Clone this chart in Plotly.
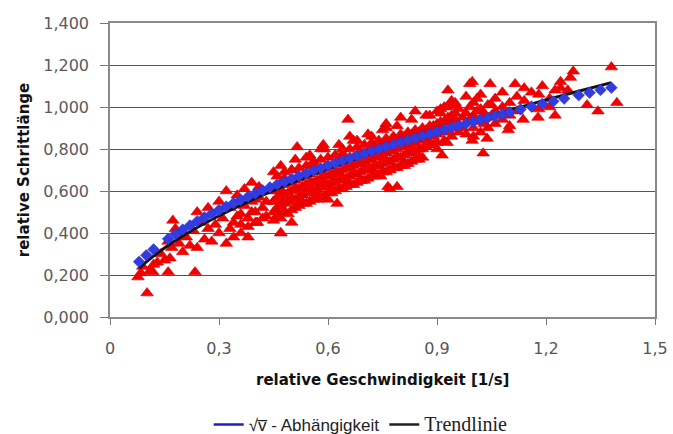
import plotly.graph_objects as go

# --- Red measured points (relative speed, relative step length)
red_x = [
    # sparse low-speed region
    0.077, 0.102, 0.118, 0.16, 0.234, 0.165, 0.173, 0.09, 0.13, 0.14, 0.15, 0.17, 0.19, 0.2, 0.2, 0.11, 0.085, 0.18, 0.16, 0.12,
    0.21, 0.22, 0.23, 0.24, 0.24, 0.25, 0.26, 0.27, 0.27, 0.28, 0.29, 0.30, 0.30, 0.31, 0.32, 0.32, 0.33, 0.33, 0.34, 0.35,
    0.35, 0.36, 0.36, 0.37, 0.37, 0.38, 0.38, 0.39, 0.39, 0.40, 0.40, 0.405, 0.41, 0.42, 0.43, 0.44, 0.45, 0.45, 0.46, 0.47, 0.47,
    0.34, 0.36, 0.38, 0.40, 0.42, 0.43, 0.41, 0.39,
    # dense band
    0.45, 0.45, 0.45, 0.45, 0.46, 0.46, 0.46, 0.46, 0.47, 0.47, 0.47, 0.47, 0.48, 0.48, 0.48, 0.48,
    0.49, 0.49, 0.49, 0.49, 0.50, 0.50, 0.50, 0.50, 0.51, 0.51, 0.51, 0.51, 0.52, 0.52, 0.52, 0.52,
    0.53, 0.53, 0.53, 0.53, 0.54, 0.54, 0.54, 0.54, 0.55, 0.55, 0.55, 0.55, 0.56, 0.56, 0.56, 0.56,
    0.57, 0.57, 0.57, 0.57, 0.58, 0.58, 0.58, 0.58, 0.59, 0.59, 0.59, 0.59, 0.60, 0.60, 0.60, 0.60,
    0.61, 0.61, 0.61, 0.61, 0.62, 0.62, 0.62, 0.62, 0.63, 0.63, 0.63, 0.63, 0.64, 0.64, 0.64, 0.64,
    0.65, 0.65, 0.65, 0.65, 0.66, 0.66, 0.66, 0.66, 0.67, 0.67, 0.67, 0.67, 0.68, 0.68, 0.68, 0.68,
    0.69, 0.69, 0.69, 0.69, 0.70, 0.70, 0.70, 0.70, 0.71, 0.71, 0.71, 0.71, 0.72, 0.72, 0.72, 0.72,
    0.73, 0.73, 0.73, 0.73, 0.74, 0.74, 0.74, 0.74, 0.75, 0.75, 0.75, 0.75, 0.76, 0.76, 0.76, 0.76,
    0.77, 0.77, 0.77, 0.77, 0.78, 0.78, 0.78, 0.78, 0.79, 0.79, 0.79, 0.79, 0.80, 0.80, 0.80, 0.80,
    0.81, 0.81, 0.81, 0.81, 0.82, 0.82, 0.82, 0.82, 0.83, 0.83, 0.83, 0.83, 0.84, 0.84, 0.84, 0.84,
    0.85, 0.85, 0.85, 0.85, 0.86, 0.86, 0.86, 0.86, 0.87, 0.87, 0.87, 0.88, 0.88, 0.88, 0.89, 0.89, 0.89,
    0.90, 0.90, 0.90, 0.91, 0.91, 0.92, 0.92, 0.93, 0.93, 0.94, 0.94, 0.95, 0.95,
    # points just above the line
    0.46, 0.48, 0.50, 0.52, 0.54, 0.56, 0.58, 0.60, 0.62, 0.64, 0.66, 0.68, 0.70, 0.72, 0.74, 0.76, 0.78,
    0.80, 0.82, 0.84, 0.86, 0.88, 0.90, 0.92, 0.94,
    0.47, 0.51, 0.55, 0.59, 0.63, 0.67, 0.71, 0.75, 0.79, 0.83, 0.87, 0.91, 0.95,
    # scattered points around the band
    0.48, 0.50, 0.50, 0.54, 0.56, 0.58, 0.62, 0.64, 0.68, 0.72, 0.76, 0.80, 0.84, 0.88,
    0.49, 0.51, 0.53, 0.55, 0.57, 0.59, 0.61, 0.63, 0.65, 0.67, 0.69, 0.71, 0.73, 0.75, 0.77, 0.79, 0.81, 0.83, 0.85, 0.87,
    0.655, 0.765, 0.79, 0.745, 0.625, 0.60, 0.93, 0.99, 0.515, 0.76, 0.77, 0.47, 0.405, 0.587, 0.66,
    # upper region
    0.90, 0.90, 0.92, 0.92, 0.94, 0.94, 0.94, 0.96, 0.96, 0.98, 0.98, 0.98, 1.00, 1.00, 1.00, 1.00,
    1.02, 1.02, 1.02, 1.02, 1.04, 1.04, 1.04, 1.06, 1.06, 1.06, 1.08, 1.08, 1.08, 1.10, 1.10, 1.10,
    0.91, 0.93, 0.95, 0.97, 0.99, 1.01, 1.03, 1.05, 0.91, 0.93, 0.95, 0.97, 0.99, 1.01, 1.03, 1.05,
    1.12, 1.12, 1.14, 1.14, 1.18, 1.18, 1.21, 1.21, 1.24, 1.24, 1.26,
    0.997, 1.046, 1.115, 1.16, 1.19, 1.225, 1.275, 1.267, 1.38, 1.395, 1.343, 1.313, 1.225, 1.178, 1.137, 1.096, 1.038,
    1.027, 0.997, 0.928, 0.914,
]
red_y = [
    0.19, 0.114, 0.214, 0.214, 0.214, 0.28, 0.46, 0.24, 0.26, 0.30, 0.27, 0.33, 0.35, 0.31, 0.40, 0.22, 0.21, 0.42, 0.36, 0.25,
    0.38, 0.34, 0.41, 0.33, 0.50, 0.45, 0.37, 0.42, 0.52, 0.36, 0.44, 0.40, 0.55, 0.47, 0.35, 0.60, 0.42, 0.52, 0.38, 0.48,
    0.58, 0.44, 0.40, 0.53, 0.61, 0.38, 0.47, 0.64, 0.50, 0.45, 0.56, 0.45, 0.62, 0.52, 0.48, 0.60, 0.69, 0.55, 0.50, 0.40, 0.58,
    0.45, 0.49, 0.43, 0.50, 0.47, 0.55, 0.57, 0.55,
    0.60, 0.55, 0.50, 0.46, 0.62, 0.57, 0.52, 0.48, 0.61, 0.56, 0.53, 0.47, 0.63, 0.58, 0.54, 0.50,
    0.64, 0.59, 0.55, 0.49, 0.64, 0.60, 0.56, 0.51, 0.65, 0.61, 0.56, 0.52, 0.66, 0.61, 0.57, 0.53,
    0.67, 0.62, 0.58, 0.54, 0.67, 0.63, 0.59, 0.54, 0.68, 0.64, 0.59, 0.55, 0.69, 0.64, 0.60, 0.56,
    0.70, 0.65, 0.61, 0.56, 0.70, 0.66, 0.62, 0.57, 0.71, 0.67, 0.62, 0.58, 0.72, 0.67, 0.63, 0.59,
    0.72, 0.68, 0.64, 0.59, 0.73, 0.69, 0.64, 0.60, 0.74, 0.69, 0.65, 0.61, 0.74, 0.70, 0.66, 0.61,
    0.75, 0.71, 0.66, 0.62, 0.76, 0.71, 0.67, 0.63, 0.76, 0.72, 0.68, 0.63, 0.77, 0.73, 0.68, 0.64,
    0.78, 0.73, 0.69, 0.65, 0.78, 0.74, 0.70, 0.65, 0.79, 0.75, 0.70, 0.66, 0.80, 0.75, 0.71, 0.67,
    0.80, 0.76, 0.72, 0.67, 0.81, 0.77, 0.72, 0.68, 0.82, 0.77, 0.73, 0.69, 0.82, 0.78, 0.74, 0.69,
    0.83, 0.79, 0.74, 0.70, 0.84, 0.79, 0.75, 0.71, 0.84, 0.80, 0.76, 0.71, 0.85, 0.81, 0.76, 0.72,
    0.86, 0.81, 0.77, 0.73, 0.86, 0.82, 0.78, 0.73, 0.87, 0.83, 0.78, 0.74, 0.88, 0.83, 0.79, 0.75,
    0.88, 0.84, 0.80, 0.75, 0.89, 0.85, 0.80, 0.76, 0.89, 0.85, 0.81, 0.90, 0.86, 0.82, 0.91, 0.86, 0.82,
    0.91, 0.87, 0.83, 0.92, 0.88, 0.93, 0.88, 0.93, 0.89, 0.94, 0.90, 0.94, 0.90,
    0.67, 0.69, 0.70, 0.71, 0.72, 0.74, 0.75, 0.76, 0.77, 0.78, 0.80, 0.81, 0.82, 0.83, 0.84, 0.85, 0.86,
    0.87, 0.88, 0.89, 0.90, 0.91, 0.92, 0.93, 0.94,
    0.72, 0.75, 0.77, 0.80, 0.82, 0.84, 0.87, 0.89, 0.91, 0.94, 0.96, 0.99, 1.01,
    0.66, 0.70, 0.45, 0.76, 0.72, 0.80, 0.77, 0.80, 0.84, 0.86, 0.90, 0.95, 0.98, 0.96,
    0.58, 0.55, 0.60, 0.62, 0.59, 0.64, 0.61, 0.67, 0.63, 0.69, 0.65, 0.71, 0.68, 0.74, 0.70, 0.76, 0.72, 0.80, 0.76, 0.82,
    0.94, 0.62, 0.62, 0.67, 0.54, 0.56, 1.08, 1.11, 0.81, 0.92, 0.61, 0.40, 0.45, 0.82, 0.86,
    0.98, 0.80, 1.00, 0.84, 1.03, 0.96, 0.86, 0.99, 0.88, 1.05, 0.97, 0.87, 1.02, 0.96, 0.90, 0.86,
    1.06, 0.99, 0.93, 0.88, 1.01, 0.95, 0.90, 1.04, 0.98, 0.92, 1.07, 1.00, 0.94, 1.02, 0.96, 0.91,
    0.97, 1.00, 1.02, 0.95, 1.00, 1.04, 0.97, 1.01, 0.93, 0.95, 0.97, 0.90, 0.94, 0.98, 0.92, 0.96,
    1.05, 0.98, 1.09, 1.03, 1.06, 0.99, 1.04, 1.00, 1.09, 1.12, 1.08,
    1.12, 1.11, 1.11, 1.07, 1.10, 1.08, 1.17, 1.14, 1.19, 1.02, 0.98, 1.01, 0.96, 0.95, 0.94, 0.89, 0.85,
    0.78, 0.84, 0.83, 0.77,
]

# --- Blue "sqrt(v)" dependency points
blue_x = [0.08, 0.10, 0.12, 0.16, 0.18, 0.20, 0.22, 0.24, 0.26, 0.28, 0.30, 0.32, 0.34, 0.36, 0.38, 0.40,
          0.42, 0.44, 0.46, 0.48, 0.50, 0.52, 0.54, 0.56, 0.58, 0.60, 0.62, 0.64, 0.66, 0.68, 0.70, 0.72,
          0.74, 0.76, 0.78, 0.80, 0.82, 0.84, 0.86, 0.88, 0.90, 0.92, 0.94, 0.96, 0.98, 1.00, 1.02, 1.04,
          1.06, 1.08, 1.10, 1.13, 1.16, 1.19, 1.22, 1.25, 1.29, 1.32, 1.35, 1.38]
blue_y = [0.263, 0.294, 0.322, 0.372, 0.395, 0.416, 0.436, 0.456, 0.474, 0.492, 0.509, 0.526, 0.542, 0.558, 0.573, 0.588,
          0.603, 0.617, 0.631, 0.644, 0.658, 0.671, 0.683, 0.696, 0.708, 0.720, 0.732, 0.744, 0.756, 0.767, 0.778, 0.789,
          0.800, 0.811, 0.821, 0.832, 0.842, 0.852, 0.862, 0.872, 0.882, 0.892, 0.902, 0.911, 0.921, 0.930, 0.939, 0.948,
          0.958, 0.966, 0.975, 0.989, 1.002, 1.015, 1.027, 1.040, 1.056, 1.068, 1.081, 1.092]

# --- Black trend line
trend_x = [0.08, 0.10, 0.15, 0.20, 0.30, 0.40, 0.50, 0.60, 0.70, 0.80, 0.90, 1.00, 1.10, 1.20, 1.30, 1.38]
trend_y = [0.233, 0.263, 0.329, 0.386, 0.482, 0.565, 0.639, 0.706, 0.768, 0.827, 0.882, 0.935, 0.985, 1.034, 1.080, 1.116]

y_ticks = [0, 0.2, 0.4, 0.6, 0.8, 1.0, 1.2, 1.4]
y_ticktext = ["0,000", "0,200", "0,400", "0,600", "0,800", "1,000", "1,200", "1,400"]
x_ticks = [0, 0.3, 0.6, 0.9, 1.2, 1.5]
x_ticktext = ["0", "0,3", "0,6", "0,9", "1,2", "1,5"]

fig = go.Figure()
fig.add_trace(go.Scatter(x=red_x, y=red_y, mode="markers", showlegend=False,
                         marker=dict(symbol="triangle-up", size=11, color="rgb(245,0,0)",
                                     line=dict(width=0.6, color="rgb(215,0,0)"))))
fig.add_trace(go.Scatter(x=trend_x, y=trend_y, mode="lines", line_shape="spline", showlegend=False,
                         line=dict(color="#111111", width=3)))
fig.add_trace(go.Scatter(x=blue_x, y=blue_y, mode="markers", showlegend=False,
                         marker=dict(symbol="diamond", size=9, color="rgb(50,60,225)",
                                     line=dict(width=0.5, color="rgb(40,50,200)"))))
# legend-only entries (reference legend shows lines only)
fig.add_trace(go.Scatter(x=[None], y=[None], mode="lines", name="√v̅ - Abhängigkeit",
                         line=dict(color="rgb(30,30,200)", width=2.5)))
fig.add_trace(go.Scatter(x=[None], y=[None], mode="lines",
                         name="<span style='font-family:\"Liberation Serif\", serif;font-size:20px'>Trendlinie</span>",
                         line=dict(color="#222222", width=2.5)))

fig.update_layout(
    width=673, height=434,
    margin=dict(l=110, r=18, t=23, b=117, autoexpand=False),
    paper_bgcolor="white", plot_bgcolor="white",
    font=dict(family="DejaVu Sans, Verdana, sans-serif", size=13, color="#333333"),
    legend=dict(orientation="h", x=0.46, xanchor="center",
                yref="container", y=(434 - 425) / 434, yanchor="middle",
                font=dict(family="Liberation Sans, Arial, sans-serif", size=17, color="#222222"),
                itemwidth=30, bgcolor="rgba(0,0,0,0)"),
    annotations=[dict(text="<b>relative Geschwindigkeit [1/s]</b>", x=0.5, xref="paper", y=-0.214,
                      yref="paper", showarrow=False,
                      font=dict(family="DejaVu Sans, Verdana, sans-serif", size=15, color="#111111"),
                      xanchor="center", yanchor="middle")],
)

fig.update_xaxes(range=[0, 1.5], tickvals=x_ticks, ticktext=x_ticktext, showgrid=False,
                 showline=True, linecolor="#8a8a8a", linewidth=1.5, mirror=True,
                 ticks="outside", ticklen=6, tickcolor="#777777", zeroline=False,
                 ticklabelstandoff=10,
                 tickfont=dict(size=16, color="#555555"))
fig.update_yaxes(range=[0, 1.4], tickvals=y_ticks, ticktext=y_ticktext, showgrid=True,
                 gridcolor="#555555", gridwidth=1.2, showline=True, linecolor="#8a8a8a", linewidth=1.5,
                 mirror=True, ticks="outside", ticklen=8, tickcolor="#777777", zeroline=False,
                 ticklabelstandoff=8,
                 tickfont=dict(size=16, color="#5a5a5a"),
                 title=dict(text="<b>relative Schrittlänge</b>",
                            font=dict(size=15, color="#111111"), standoff=10))

fig.write_html("out.html")
